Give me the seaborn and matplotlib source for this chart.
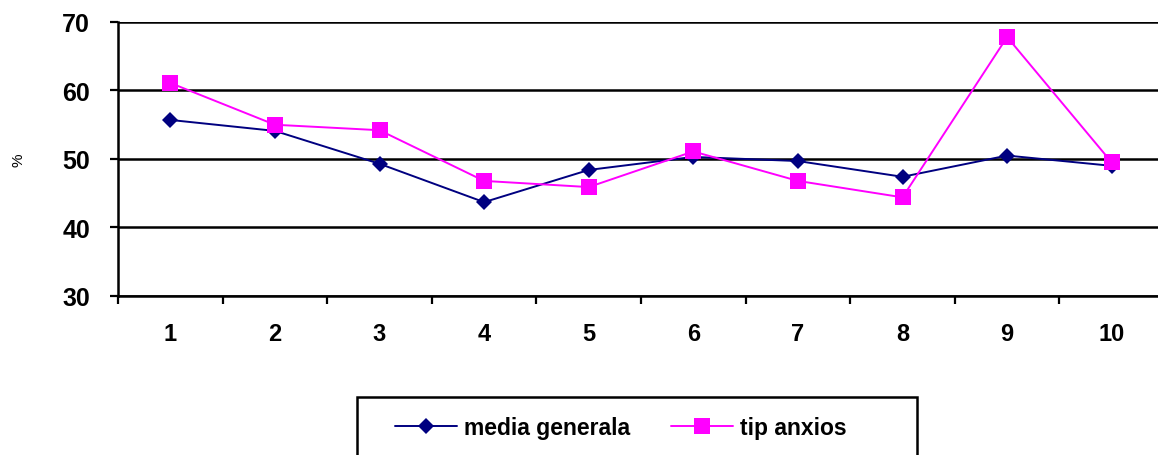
import matplotlib
matplotlib.use("Agg")
import matplotlib.pyplot as plt
import seaborn as sns
import pandas as pd
from matplotlib.patches import Rectangle
from matplotlib.ticker import FixedLocator

# Values per item (percent)
items = [1, 2, 3, 4, 5, 6, 7, 8, 9, 10]
media_generala = [55.7, 54.1, 49.3, 43.7, 48.4, 50.3, 49.7, 47.4, 50.5, 49.0]
tip_anxios = [61.1, 55.0, 54.2, 46.8, 45.9, 51.1, 46.8, 44.4, 67.8, 49.5]
series_names = ["media generala", "tip anxios"]
y_ticks = [30, 40, 50, 60, 70]

df = pd.DataFrame({
    "item": items * 2,
    "value": media_generala + tip_anxios,
    "serie": [series_names[0]] * len(items) + [series_names[1]] * len(items),
})

sns.set_style("white")
plt.rcParams["font.family"] = ["Liberation Sans", "DejaVu Sans"]
plt.rcParams["text.color"] = "black"
plt.rcParams["xtick.color"] = "black"
plt.rcParams["ytick.color"] = "black"

fig = plt.figure(figsize=(11.58, 4.56), dpi=100)
ax = fig.add_axes([0.1019, 0.3487, 0.9033, 0.6009])

palette = {"media generala": "#000080", "tip anxios": "#FF00FF"}
markers = {"media generala": "D", "tip anxios": "s"}
sns.lineplot(data=df, x="item", y="value", hue="serie", style="serie",
             palette=palette, markers=markers, dashes=False, ax=ax,
             linewidth=1.4, markeredgewidth=0, zorder=3)

for line in ax.get_lines():
    if line.get_marker() == "D":
        line.set_markersize(8)
    elif line.get_marker() == "s":
        line.set_markersize(11)

ax.set_xlim(0.5, 10.5)
ax.set_ylim(30, 70)
ax.set_yticks(y_ticks)
ax.set_xticks(items)
ax.set_xticklabels([str(i) for i in items])
ax.xaxis.set_minor_locator(FixedLocator([i + 0.5 for i in range(0, 11)]))

ax.grid(axis="y", color="black", linewidth=1.8, zorder=1)
ax.set_axisbelow(True)
for side in ["top", "right"]:
    ax.spines[side].set_visible(False)
for side in ["left", "bottom"]:
    ax.spines[side].set_color("black")
    ax.spines[side].set_linewidth(1.8)

ax.tick_params(axis="y", which="major", left=True, direction="out", length=6,
               width=1.6, color="black", labelcolor="black", pad=14,
               labelsize=18)
ax.tick_params(axis="x", which="major", bottom=True, length=0, pad=19,
               labelcolor="black", labelsize=17)
ax.tick_params(axis="x", which="minor", bottom=True, direction="out",
               length=6, width=1.6, color="black")
for lbl in ax.get_xticklabels() + ax.get_yticklabels():
    lbl.set_fontweight("bold")

ax.set_xlabel("")
ax.set_ylabel("")
fig.text(0.016, 0.649, "%", rotation=90, fontsize=11, ha="center",
         va="center", color="black")

handles, labels = ax.get_legend_handles_labels()
ax.get_legend().remove()
for h in handles:
    if h.get_marker() == "D":
        h.set_markersize(8)
    elif h.get_marker() == "s":
        h.set_markersize(11)
fig.legend(handles, labels, loc="center left", bbox_to_anchor=(0.341, 0.061),
           ncol=2, frameon=False,
           prop={"weight": "bold", "size": 16.5},
           labelcolor="black",
           handlelength=2.7, handletextpad=0.3, columnspacing=1.8,
           borderpad=0, borderaxespad=0)

fig.patches.append(Rectangle((0.308, -0.05), 0.484, 0.177,
                             transform=fig.transFigure, fill=False,
                             edgecolor="black", linewidth=1.8))

fig.savefig("out.png", dpi=100)
